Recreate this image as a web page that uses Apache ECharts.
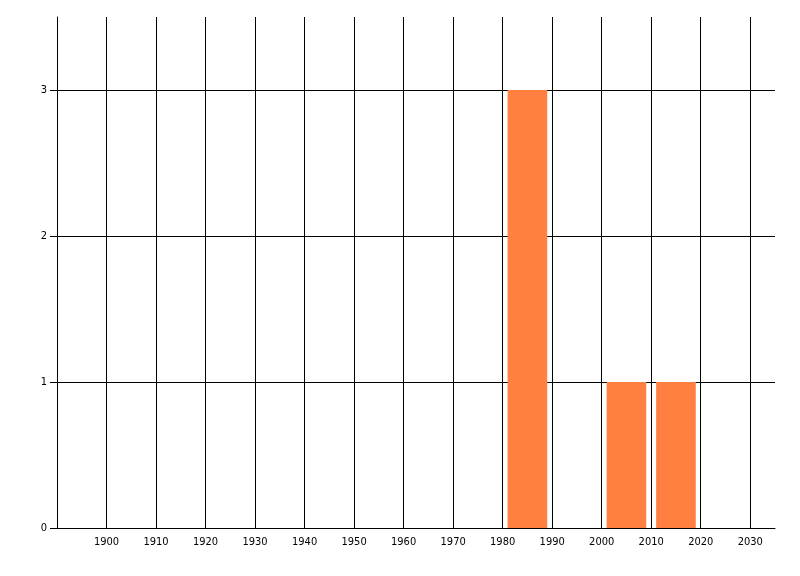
<!DOCTYPE html>
<html>
<head>
<meta charset="utf-8">
<script src="https://cdn.jsdelivr.net/npm/echarts@6/dist/echarts.min.js"></script>
<style>html,body{margin:0;padding:0;background:#fff}#c{width:800px;height:576px}</style>
</head>
<body>
<div id="c"></div>
<script>
// Data
const binStarts = [1980, 2000, 2010];
const binCounts = [3, 1, 1];
const binWidth = 10;
const xTicks = [1900, 1910, 1920, 1930, 1940, 1950, 1960, 1970, 1980, 1990, 2000, 2010, 2020, 2030];
const yTicks = [0, 1, 2, 3];

const chart = echarts.init(document.getElementById('c'), null, {renderer: 'canvas'});
const font = {fontFamily: '"DejaVu Sans Condensed", "DejaVu Sans", sans-serif', fontSize: 11, color: '#000'};
const data = binStarts.map((s, i) => [s, s + binWidth, binCounts[i]]);

chart.setOption({
  animation: false,
  backgroundColor: '#fff',
  grid: {left: 57, right: 25, top: 17, bottom: 48, containLabel: false},
  xAxis: {
    type: 'value', min: 1890, max: 2035, interval: 10,
    axisLine: {show: true, onZero: false, lineStyle: {color: '#000', width: 1}},
    axisTick: {show: false},
    axisLabel: Object.assign({margin: 9, customValues: xTicks, formatter: v => String(v)}, font),
    splitLine: {show: true, showMinLine: true, showMaxLine: false, lineStyle: {color: '#000', width: 1}}
  },
  yAxis: {
    type: 'value', min: 0, max: 3.5, interval: 1,
    axisLine: {show: true, lineStyle: {color: '#000', width: 1}},
    axisTick: {show: true, length: 7, customValues: yTicks, lineStyle: {color: '#000'}},
    axisLabel: Object.assign({margin: 10, customValues: yTicks}, font),
    splitLine: {show: true, showMinLine: false, showMaxLine: true, lineStyle: {color: '#000', width: 1}}
  },
  series: [{
    type: 'custom',
    data: data,
    encode: {x: [0, 1], y: 2},
    renderItem: function (params, api) {
      const gap = 1;
      const p0 = api.coord([api.value(0) + gap, api.value(2)]);
      const p1 = api.coord([api.value(1) - gap, 0]);
      return {
        type: 'rect',
        shape: {x: p0[0], y: p0[1], width: p1[0] - p0[0], height: p1[1] - p0[1]},
        style: {fill: '#FF8040'}
      };
    },
    z: 5
  }]
});
</script>
</body>
</html>
